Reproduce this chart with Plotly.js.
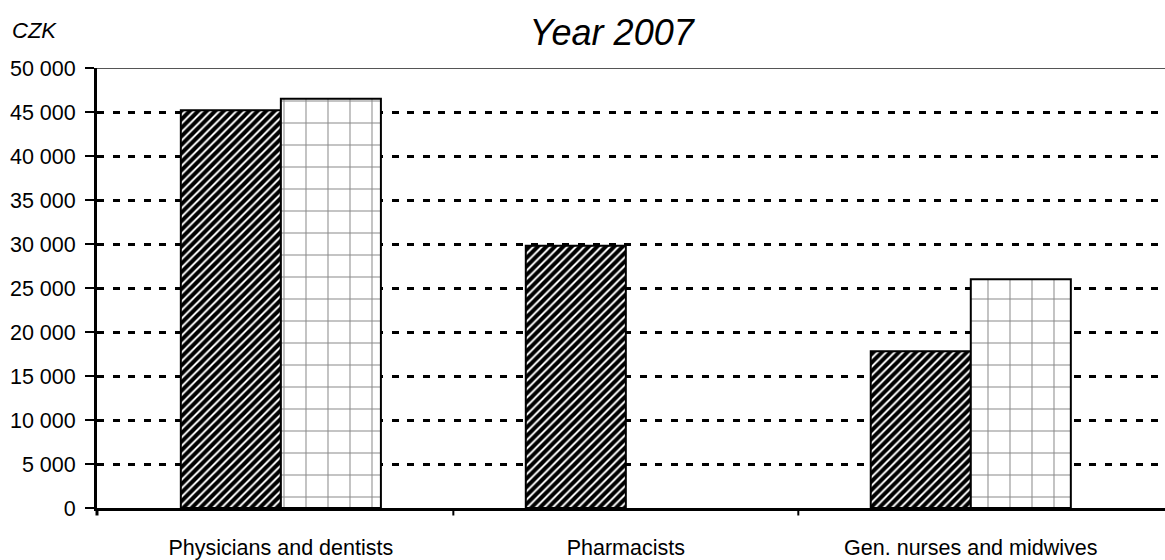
<!DOCTYPE html>
<html>
<head>
<meta charset="utf-8">
<script src="https://cdn.plot.ly/plotly-3.0.1.min.js"></script>
<style>html,body{margin:0;padding:0;background:#fff;}#chart{width:1165px;height:560px;}</style>
</head>
<body>
<div id="chart"></div>
<script>
const categories = ["Physicians and dentists", "Pharmacists", "Gen. nurses and midwives"];
const seriesA = [45200, 29800, 17800];
const seriesB = [46500, null, 26000];
const yTicks = [0, 5000, 10000, 15000, 20000, 25000, 30000, 35000, 40000, 45000, 50000];
const titleText = "Year 2007";
const unitText = "CZK";

const font = "Liberation Sans, Arial, sans-serif";

const traces = [
  {
    type: "bar", x: categories, y: seriesA, name: "A",
    marker: {
      color: "white",
      line: {color: "black", width: 2},
      pattern: {shape: "/", fgcolor: "black", bgcolor: "white", size: 6, solidity: 0.68}
    },
    hoverinfo: "y"
  },
  {
    type: "bar", x: categories, y: seriesB, name: "B",
    marker: {
      color: "white",
      line: {color: "black", width: 2},
      pattern: {shape: "+", fgcolor: "#8a8a8a", bgcolor: "white", size: 22, solidity: 0.09}
    },
    hoverinfo: "y"
  }
];

const tickShapes = [0.5, 1.5].map(v => ({
  type: "line", xref: "x", yref: "paper", x0: v, x1: v, y0: 0, y1: -0.017,
  line: {color: "black", width: 2}
}));

const layout = {
  width: 1165, height: 560,
  margin: {l: 97, r: 0, t: 68, b: 52},
  paper_bgcolor: "white", plot_bgcolor: "white",
  showlegend: false,
  barmode: "group",
  bargap: 0.42, bargroupgap: 0,
  separators: ". ",
  font: {family: font, size: 20, color: "black"},
  title: {
    text: "<i>" + titleText + "</i>",
    font: {family: font, size: 36, color: "black"},
    x: 0.525, xanchor: "center", xref: "container",
    y: 0.943, yanchor: "middle", yref: "container"
  },
  xaxis: {
    type: "category",
    range: [-0.533, 2.563],
    showgrid: false, zeroline: false,
    showline: true, linecolor: "black", linewidth: 3,
    ticks: "", ticklabelstandoff: 18,
    tickfont: {family: font, size: 21.5, color: "black"},
    fixedrange: true
  },
  yaxis: {
    range: [0, 50000],
    tickvals: yTicks,
    tickformat: ",d",
    showgrid: true, gridcolor: "black", gridwidth: 3, griddash: "7px,8.5px",
    zeroline: false,
    showline: true, linecolor: "black", linewidth: 3,
    ticks: "outside", ticklen: 9, tickwidth: 2, tickcolor: "black",
    ticklabelstandoff: 5,
    tickfont: {family: font, size: 21.5, color: "black"},
    fixedrange: true
  },
  shapes: [
    {type: "line", xref: "paper", yref: "paper", x0: 0, x1: 0, y0: 0, y1: -0.017, line: {color: "black", width: 3}},
    {type: "line", xref: "paper", yref: "y", x0: 0, x1: 1, y0: 50000, y1: 50000, layer: "below", line: {color: "#555", width: 2}},
    ...tickShapes
  ],
  annotations: [
    {text: "<i>" + unitText + "</i>", xref: "paper", yref: "paper", x: -0.0815, y: 1.086, xanchor: "left", yanchor: "middle",
     showarrow: false, font: {family: font, size: 22, color: "black"}}
  ]
};

Plotly.newPlot("chart", traces, layout, {displayModeBar: false, staticPlot: true});
</script>
</body>
</html>
